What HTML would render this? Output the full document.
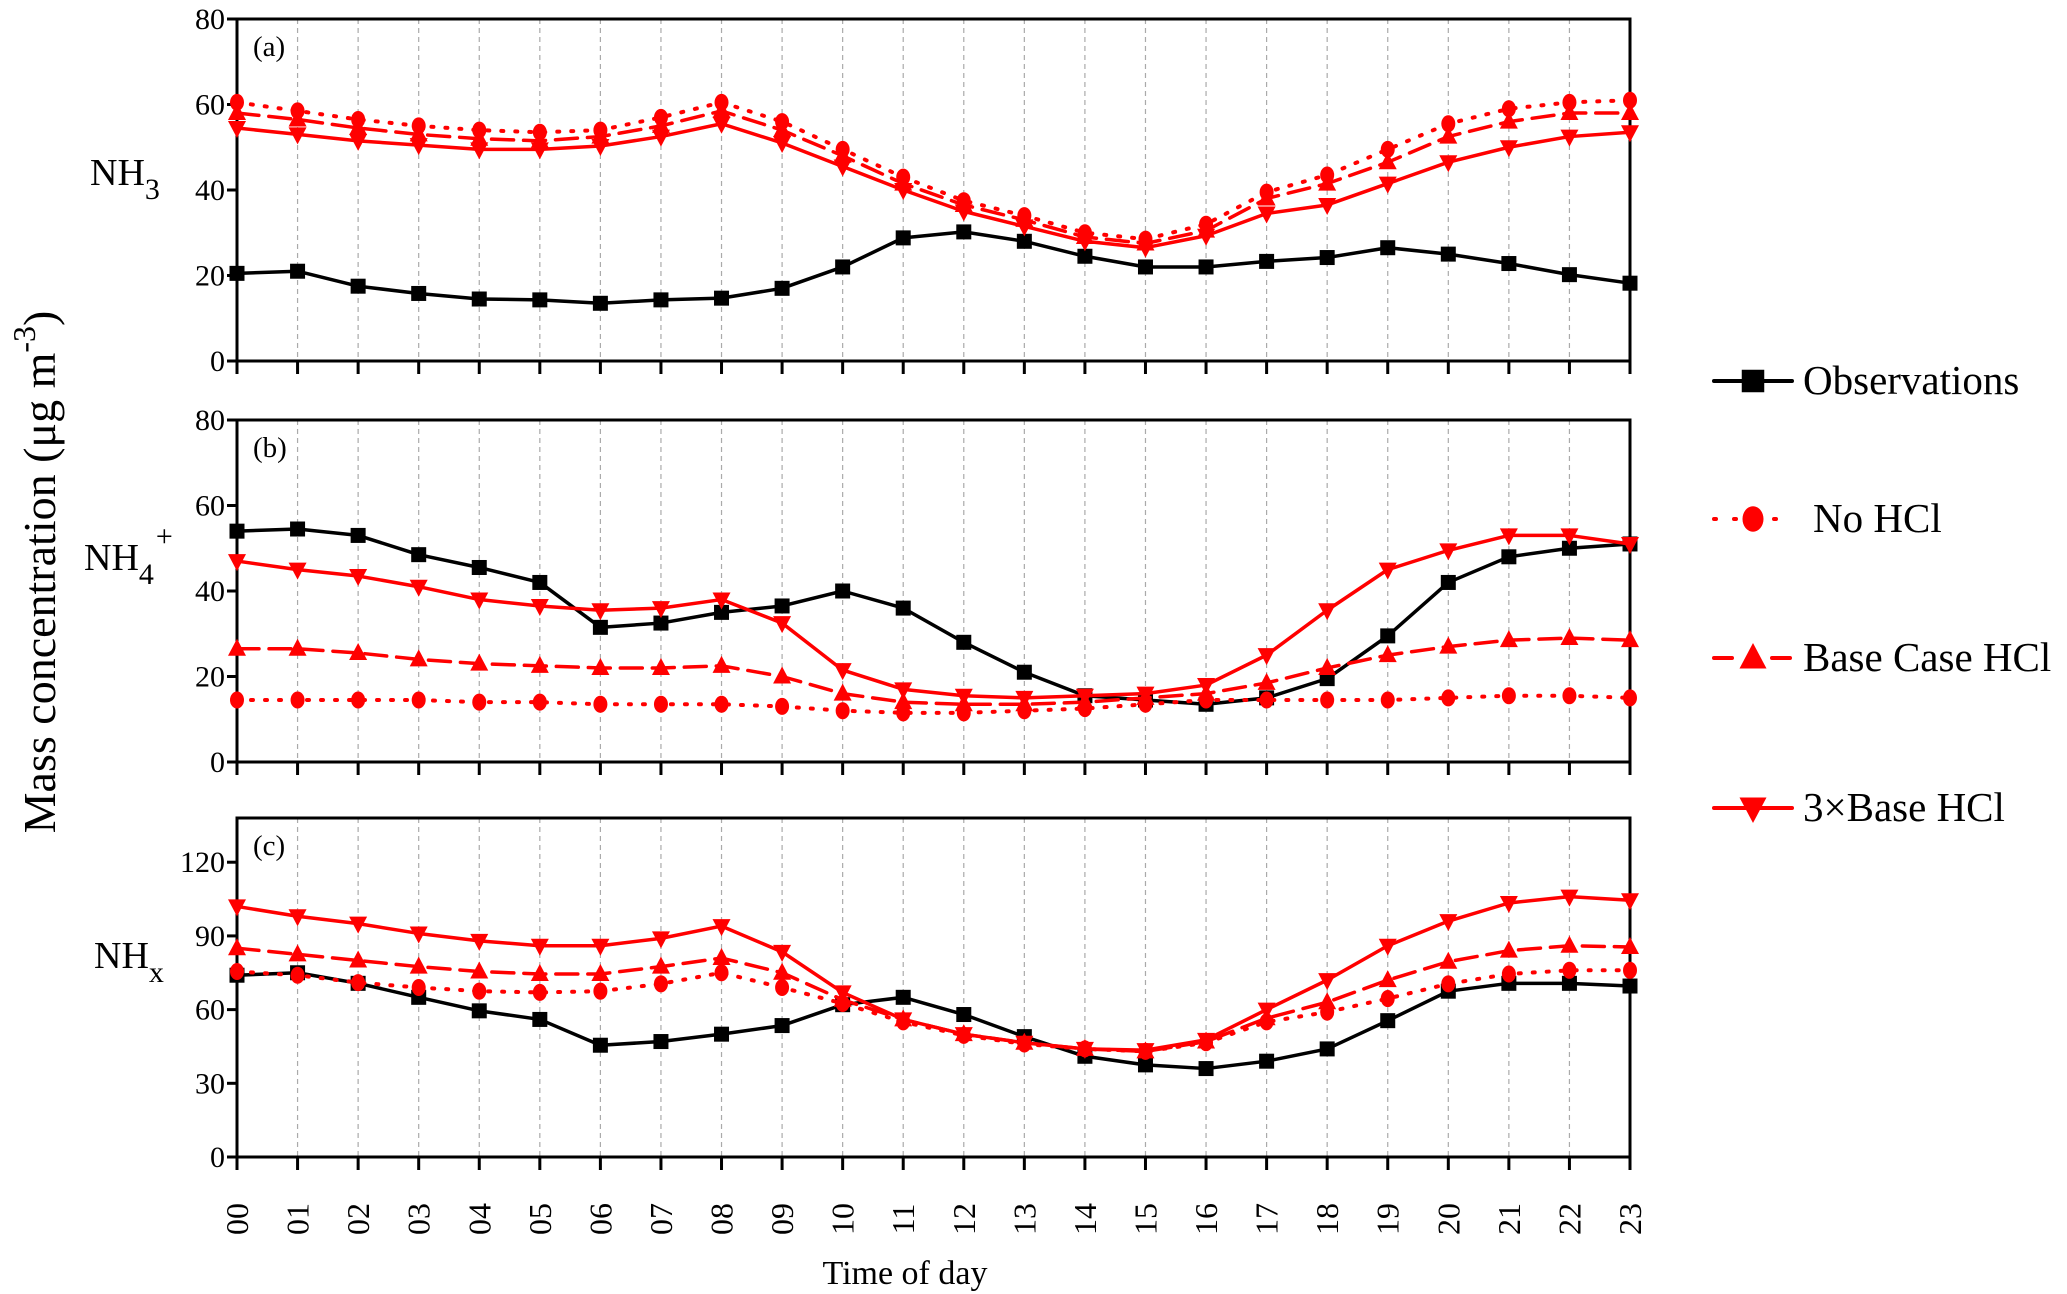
<!DOCTYPE html>
<html><head><meta charset="utf-8"><style>
html,body{margin:0;padding:0;background:#fff;}
svg{display:block;font-family:"Liberation Serif","Times New Roman",serif;}
</style></head><body>
<svg id="chart" width="2067" height="1294" viewBox="0 0 2067 1294" xmlns="http://www.w3.org/2000/svg"></svg>
<script>
const hours = ["00","01","02","03","04","05","06","07","08","09","10","11","12","13","14","15","16","17","18","19","20","21","22","23"];
const nh3Obs  = [20.5,21,17.5,15.8,14.5,14.3,13.5,14.3,14.7,17,22,28.8,30.2,28,24.5,22,22,23.3,24.2,26.5,25,22.8,20.2,18.2];
const nh3No   = [60.5,58.5,56.5,55,54,53.5,54,57,60.5,56,49.5,43,37.5,34,30,28.5,32,39.5,43.5,49.5,55.5,59,60.5,61];
const nh3Base = [58,56.5,54.5,53,52,51.5,52.5,55,58.5,54,48,41.5,36.5,33,29,27.5,30.5,38,41.5,46.5,52.5,56,58,58];
const nh3Tri  = [54.5,53,51.5,50.5,49.5,49.5,50.3,52.5,55.5,51,45.5,40,35,31.5,28,26.5,29.3,34.5,36.5,41.5,46.5,50,52.5,53.5];
const nh4Obs  = [54,54.5,53,48.5,45.5,42,31.5,32.5,35,36.5,40,36,28,21,15.5,14.5,13.5,15,19.5,29.5,42,48,50,51];
const nh4No   = [14.5,14.5,14.5,14.5,14,14,13.5,13.5,13.5,13,12,11.5,11.5,12,12.5,13.5,14.5,14.5,14.5,14.5,15,15.5,15.5,15];
const nh4Base = [26.5,26.5,25.5,24,23,22.5,22,22,22.5,20,16,14,13.5,13.5,14,15,16,18.5,22,25,27,28.5,29,28.5];
const nh4Tri  = [47,45,43.5,41,38,36.5,35.5,36,38,32.5,21.5,17,15.5,15,15.5,16,18,25,35.5,45,49.5,53,53,51];
const nhxObs  = [74,75,70.7,65,59.5,56,45.5,47,50,53.5,62,65,58,49,41,37.5,36,39,44,55.5,67.5,70.7,70.7,69.6];
const nhxNo   = [75.5,74,71,69,67.5,67,67.5,70.5,75,69,62.5,55,49.5,46,44,43,46.5,55,59,64.5,70.5,74.5,76,76];
const nhxBase = [85,82.5,80,77.5,75.5,74.5,74.5,77.5,81,75,64,56,50,46.5,44,43,47,56.5,63,72,79.5,84,86,85.5];
const nhxTri  = [102,98,95,91,88,86,86,89,94,83.5,67,56,50,46.5,44,43.5,47.7,60,72,86,96,103.4,106,104.5];
const ticksA = [0,20,40,60,80];
const ticksB = [0,20,40,60,80];
const ticksC = [0,30,60,90,120];

const NS="http://www.w3.org/2000/svg";
const svg=document.getElementById('chart');
function el(tag,attrs,parent){const e=document.createElementNS(NS,tag);for(const k in attrs)e.setAttribute(k,attrs[k]);(parent||svg).appendChild(e);return e;}
const X0=237, X1=1630;
function xs(i){return X0+(X1-X0)*i/(hours.length-1);}

function marker(g,type,x,y,color,s){
  s=s||1;
  let m;
  if(type==='square'){m=el('rect',{x:x-7.5*s,y:y-7.5*s,width:15*s,height:15*s,fill:color},g);}
  else if(type==='circle'){m=el('ellipse',{cx:x,cy:y,rx:7*s,ry:8.5*s,fill:color},g);}
  else if(type==='up'){m=el('polygon',{points:`${x},${y-10*s} ${x-9*s},${y+7*s} ${x+9*s},${y+7*s}`,fill:color},g);}
  else {m=el('polygon',{points:`${x-9*s},${y-7*s} ${x+9*s},${y-7*s} ${x},${y+10*s}`,fill:color},g);}
  return m;
}

const seriesStyle=[
  {name:'observations',color:'#000',dash:'',marker:'square'},
  {name:'no-hcl',color:'#ff0000',dash:'2 12',marker:'circle'},
  {name:'base-case-hcl',color:'#ff0000',dash:'22 10',marker:'up'},
  {name:'3x-base-hcl',color:'#ff0000',dash:'',marker:'down'}
];

function panel(id,top,bottom,ymax,ticks,data,label,sub,sup,labelY){
  const g=el('g',{});
  
  
  const ys=v=>bottom-(bottom-top)*v/ymax;
  for(let i=1;i<hours.length-1;i++){
    const l=el('line',{x1:xs(i),x2:xs(i),y1:top,y2:bottom,stroke:'#aaa','stroke-width':1.2,'stroke-dasharray':'5 4'},g);
    
    
  }
  const box=el('rect',{x:X0,y:top,width:X1-X0,height:bottom-top,fill:'none',stroke:'#000','stroke-width':3},g);
  
  
  for(let i=0;i<hours.length;i++){
    el('line',{x1:xs(i),x2:xs(i),y1:bottom,y2:bottom+13,stroke:'#000','stroke-width':3},g);
  }
  ticks.forEach(t=>{
    const y=ys(t);
    el('line',{x1:X0-10,x2:X0,y1:y,y2:y,stroke:'#000','stroke-width':3},g);
    const tx=el('text',{x:X0-12,y:y+10,'font-size':30,'text-anchor':'end',fill:'#000'},g);
    tx.textContent=t;
    
    
  });
  const pl=el('text',{x:253,y:top+37,'font-size':29,fill:'#000'},g);
  pl.textContent='('+id+')';
  
  
  const sl=el('text',{x:labelY[0],y:labelY[1],'font-size':38,fill:'#000'},g);
  
  
  const t1=el('tspan',{},sl);t1.textContent=label;
  const t2=el('tspan',{dy:14,'font-size':30},sl);t2.textContent=sub;
  if(sup){const t3=el('tspan',{dy:-38,dx:2,'font-size':30},sl);t3.textContent=sup;}
  data.forEach((vals,si)=>{
    const st=seriesStyle[si];
    const sg=el('g',{},g);
    
    
    const pts=vals.map((v,i)=>xs(i)+','+ys(v)).join(' ');
    const pl=el('polyline',{points:pts,fill:'none',stroke:st.color,'stroke-width':st.name==='no-hcl'?4:3.5,'stroke-dasharray':st.dash,'stroke-linecap':'round','stroke-linejoin':'round'},sg);
    
    
    vals.forEach((v,i)=>{
      const m=marker(sg,st.marker,xs(i),ys(v),st.color);
      
      
    });
  });
}
panel('a',19,361,80,ticksA,[nh3Obs,nh3No,nh3Base,nh3Tri],'NH','3','',[90,185]);
panel('b',420,762,80,ticksB,[nh4Obs,nh4No,nh4Base,nh4Tri],'NH','4','+',[84,570]);
panel('c',818,1157,138,ticksC,[nhxObs,nhxNo,nhxBase,nhxTri],'NH','x','',[94,968]);

hours.forEach((h,i)=>{
  const t=el('text',{x:0,y:0,'font-size':32,'text-anchor':'middle',fill:'#000',transform:`translate(${xs(i)+11},1219) rotate(-90)`});
  t.textContent=h;
  
  
});
const xt=el('text',{x:905,y:1284,'font-size':34,'text-anchor':'middle',fill:'#000'});
xt.textContent='Time of day';



const yt=el('text',{x:0,y:0,'font-size':46,'text-anchor':'middle',fill:'#000',transform:'translate(55,572) rotate(-90)'});


const ya=el('tspan',{},yt);ya.textContent='Mass concentration (μg m';
const yb=el('tspan',{dy:-20,'font-size':32},yt);yb.textContent='-3';
const yc=el('tspan',{dy:20},yt);yc.textContent=')';

const legendItems=[["Observations",381,1803],["No HCl",519,1813],["Base Case HCl",658,1803],["3×Base HCl",808,1803]];
legendItems.forEach((it,si)=>{
  const st=seriesStyle[si];
  const g=el('g',{});
  
  
  el('line',{x1:1714,x2:1792,y1:it[1],y2:it[1],stroke:st.color,'stroke-width':4,'stroke-dasharray':st.name==='no-hcl'?'2 18':(st.name==='base-case-hcl'?'18 40':''),'stroke-linecap':'round'},g);
  marker(g,st.marker,1753,it[1],st.color,1.5);
  const t=el('text',{x:it[2],y:it[1]+13,'font-size':41,fill:'#000'},g);
  t.textContent=it[0];
});
</script>
</body></html>
